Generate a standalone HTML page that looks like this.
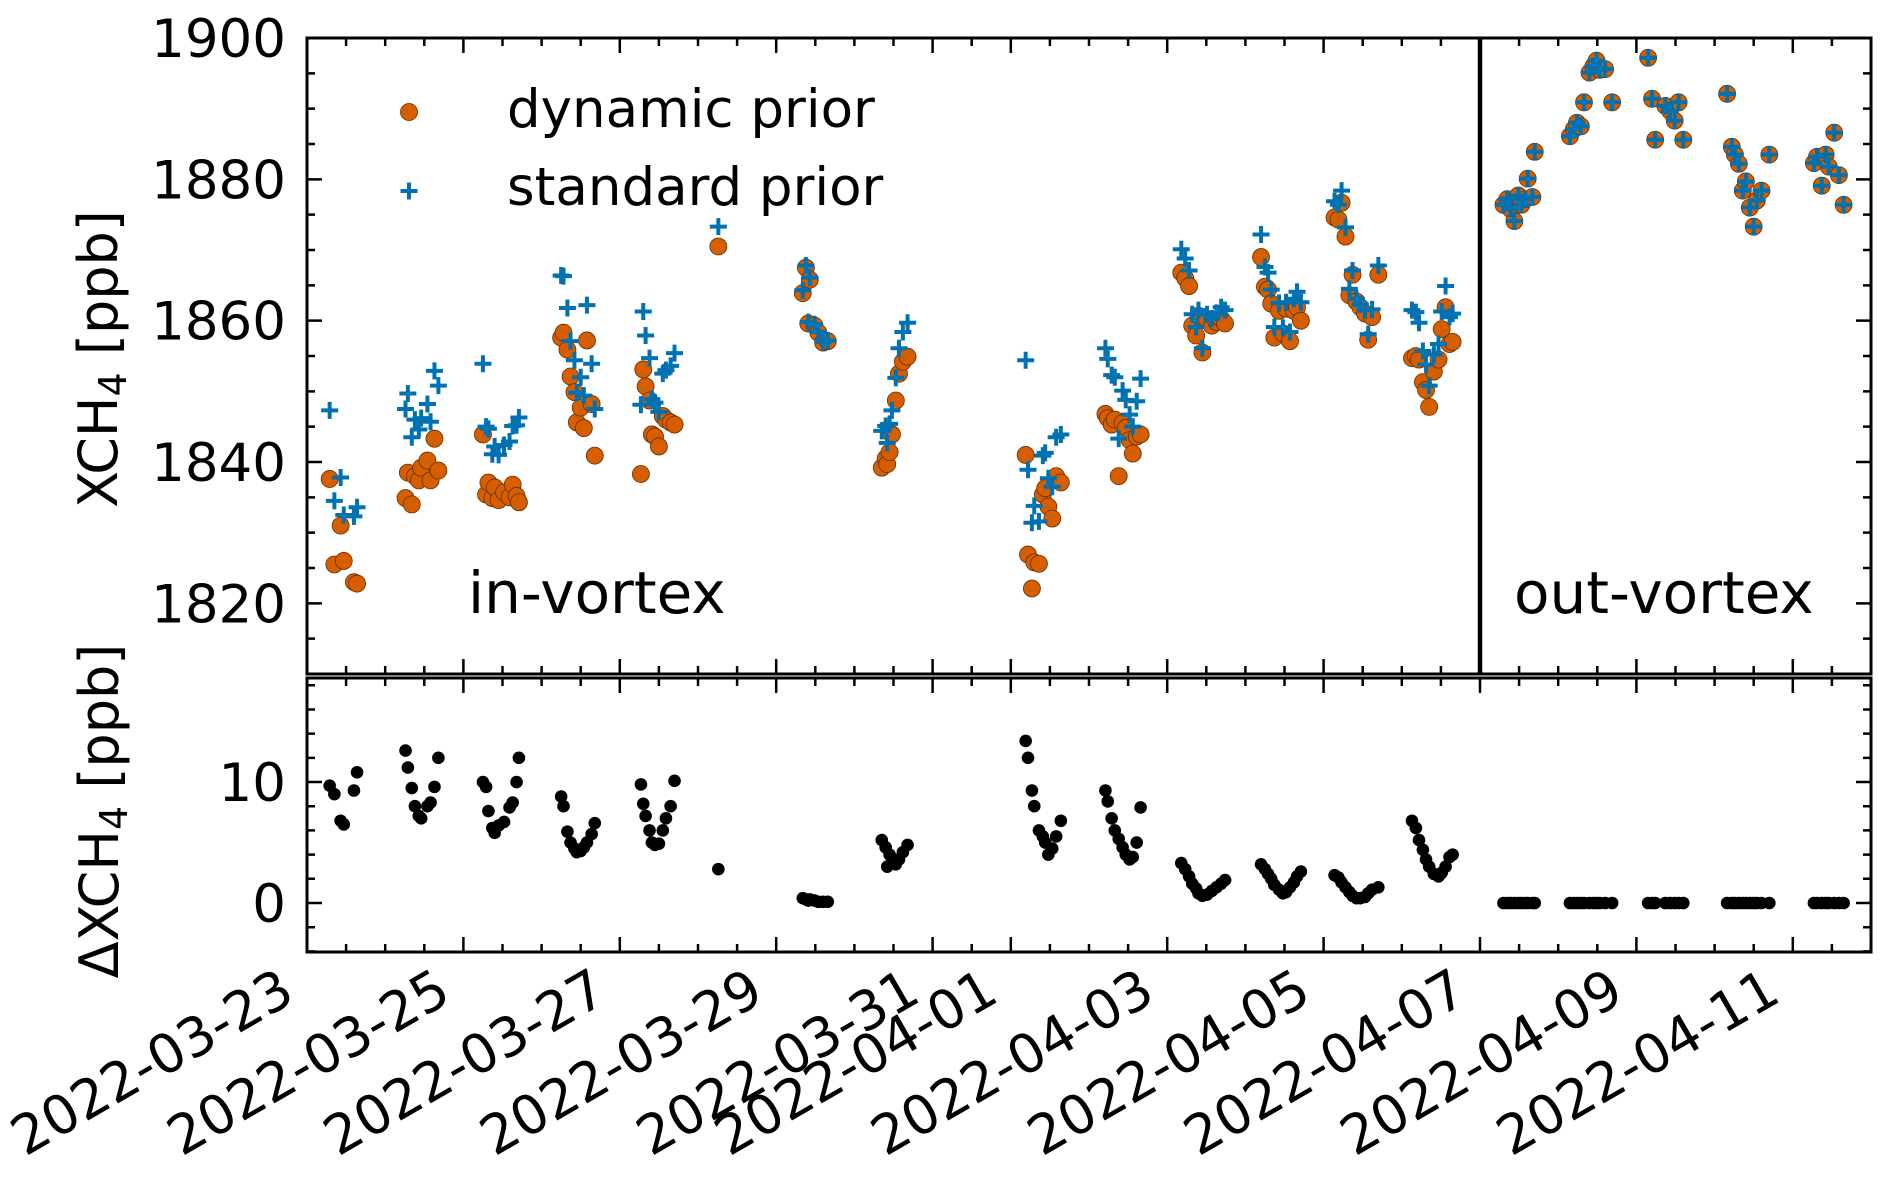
<!DOCTYPE html>
<html><head><meta charset="utf-8"><style>
html,body{margin:0;padding:0;background:#fff;}
svg{display:block;font-family:"DejaVu Sans","Liberation Sans",sans-serif;}
</style></head><body>
<svg id="chart" width="1892" height="1180" viewBox="0 0 1892 1180" xmlns="http://www.w3.org/2000/svg">
<g id="top-marks"></g>
<g id="bot-marks"></g>
<g id="axes"></g>
<text transform="translate(117,359) rotate(-90)" text-anchor="middle" font-size="54">XCH<tspan font-size="38" dy="9">4</tspan><tspan dy="-9"> [ppb]</tspan></text>
<text transform="translate(118,811) rotate(-90)" text-anchor="middle" font-size="54">ΔXCH<tspan font-size="38" dy="9">4</tspan><tspan dy="-9"> [ppb]</tspan></text>
<g>
<circle cx="409" cy="112" r="8.5" fill="#d55e00" stroke="#6b2d00" stroke-width="0.8"/>
<text x="507" y="127" font-size="53">dynamic prior</text>
<path d="M400.5 191h17M409 182.5v17" stroke="#0072b2" stroke-width="4"/>
<text x="507" y="205" font-size="53">standard prior</text>
</g>
<text x="468" y="613" font-size="58">in-vortex</text>
<text x="1514" y="613" font-size="58">out-vortex</text>
</svg>
<script>
// time in days since 2022-03-23 00:00
const times = [
0.29,0.35,0.43,0.47,0.60,0.64,
1.26,1.29,1.34,1.38,1.43,1.46,1.54,1.58,1.63,1.68,
2.25,2.29,2.32,2.37,2.40,2.45,2.52,2.59,2.63,2.68,2.71,
3.25,3.28,3.33,3.37,3.42,3.45,3.50,3.54,3.58,3.64,3.68,
4.27,4.30,4.33,4.38,4.41,4.45,4.50,4.55,4.59,4.65,4.70,
5.26,
6.34,6.38,6.43,6.41,6.49,6.54,6.60,6.66,
7.35,7.40,7.42,7.45,7.48,7.53,7.57,7.62,7.68,
9.19,9.22,9.27,9.30,9.36,9.41,9.44,9.48,9.53,9.58,9.64,
10.21,10.24,10.29,10.33,10.38,10.43,10.47,10.52,10.56,10.61,10.66,
11.18,11.23,11.28,11.32,11.37,11.40,11.45,11.51,11.57,11.63,11.69,11.74,
12.20,12.25,12.29,12.33,12.37,12.43,12.48,12.52,12.57,12.62,12.66,12.71,
13.14,13.19,13.23,13.28,13.33,13.37,13.42,13.47,13.53,13.57,13.62,13.70,
14.13,14.18,14.22,14.27,14.31,14.35,14.41,14.47,14.51,14.56,14.61,14.65,
15.30,15.35,15.39,15.44,15.49,15.53,15.58,15.61,15.67,15.70,
16.15,16.20,16.24,16.29,16.33,16.40,16.45,16.49,16.53,16.60,16.69,
17.15,17.20,17.24,17.37,17.43,17.49,17.54,17.60,
18.16,18.22,18.26,18.31,18.36,18.40,18.45,18.50,18.54,18.60,18.70,
19.27,19.31,19.37,19.42,19.46,19.53,19.59,19.65];
const dynamicPrior = [
1837.6,1825.5,1831,1826,1823,1822.8,
1834.9,1838.5,1834,1838,1837.4,1839.2,1840.2,1837.4,1843.3,1838.8,
1843.9,1835.4,1837.1,1834.9,1836.4,1834.6,1835.7,1835,1836.8,1835.2,1834.3,
1857.6,1858.3,1855.9,1852.1,1849.9,1845.6,1847.7,1844.8,1857.2,1848.2,1840.9,
1838.3,1853.1,1850.7,1848.7,1843.9,1843.6,1842.2,1846.5,1846,1845.6,1845.3,
1870.5,
1863.9,1867.5,1865.8,1859.6,1859.3,1858.3,1856.9,1857.1,
1839.2,1840.5,1839.7,1841.4,1843.9,1848.7,1852.5,1854.2,1854.9,
1841,1826.9,1822.1,1825.8,1825.6,1835.4,1836.3,1833.7,1832,1838,1837.1,
1846.8,1846.2,1845.3,1846,1838,1845.5,1844.8,1843.1,1841.2,1843.6,1843.9,
1866.8,1866,1864.9,1859.3,1857.9,1860.7,1855.5,1860.2,1859.3,1859.8,1860.3,1859.6,
1869,1864.8,1864.4,1862.4,1857.6,1861.4,1858.2,1861.7,1857.1,1861.4,1861.9,1860,
1874.6,1874.3,1876.7,1871.9,1863.6,1866.5,1862.7,1861.9,1861,1857.3,1860.5,1866.5,
1854.7,1855,1854.5,1851.3,1850.2,1847.8,1852.8,1854.5,1858.8,1861.9,1856.7,1857,
1876.4,1877.2,1875.8,1874.1,1877.7,1876.4,1877.2,1880.1,1877.5,1883.9,
1886.1,1887.1,1888,1887.5,1890.9,1895.1,1896,1896.8,1895.5,1895.6,1890.9,
1897.2,1891.4,1885.6,1890.4,1889.7,1888.3,1890.9,1885.6,
1892.1,1884.6,1883.5,1882.2,1878.4,1879.7,1876,1873.3,1877,1878.4,1883.5,
1882.3,1883.2,1879.1,1883.5,1881.8,1886.6,1880.6,1876.4];
const deltaXch4 = [
9.7,9.0,6.8,6.5,9.3,10.8,
12.6,11.2,9.5,8.0,7.2,7.0,8.0,8.3,9.6,12.0,
10.0,9.6,7.6,6.2,5.8,6.4,6.7,7.9,8.3,10.0,12.0,
8.8,8.0,5.9,5.0,4.5,4.2,4.3,4.6,5.0,5.7,6.6,
9.8,8.2,7.2,6.0,5.0,4.8,4.9,6.0,7.0,8.0,10.1,
2.8,
0.4,0.3,0.3,0.2,0.2,0.1,0.1,0.1,
5.2,4.6,3.0,4.0,3.4,3.2,3.6,4.2,4.8,
13.4,12.0,9.3,8.0,6.0,5.5,5.0,4.0,4.5,5.5,6.8,
9.3,8.4,7.0,6.0,5.3,4.6,4.0,3.6,3.8,5.0,7.9,
3.3,2.8,2.2,1.6,1.2,0.8,0.6,0.7,1.0,1.3,1.6,1.9,
3.2,2.8,2.4,2.0,1.5,1.1,0.8,0.9,1.3,1.7,2.2,2.6,
2.3,2.1,1.7,1.3,0.9,0.6,0.4,0.4,0.5,0.8,1.1,1.3,
6.8,6.2,5.2,4.4,3.6,3.0,2.4,2.2,2.5,3.0,3.8,4.0,
0,0,0,0,0,0,0,0,0,0,
0,0,0,0,0,0,0,0,0,0,0,
0,0,0,0,0,0,0,0,
0,0,0,0,0,0,0,0,0,0,0,
0,0,0,0,0,0,0,0];
const xTickDays = [0,2,4,6,8,9,11,13,15,17,19];
const xTickLabels = ["2022-03-23","2022-03-25","2022-03-27","2022-03-29","2022-03-31","2022-04-01","2022-04-03","2022-04-05","2022-04-07","2022-04-09","2022-04-11"];
const topYTicks = [1820,1840,1860,1880,1900];
const botYTicks = [0,10];
const separatorDay = 15;

(function(){
const NS="http://www.w3.org/2000/svg";
const L=307,R=1871,T1=38,B1=674,T2=678,B2=952;
const xMin=0,xMax=20,y1Min=1810,y1Max=1900,y2Min=-4.05,y2Max=18.6;
const X=d=>L+(d-xMin)/(xMax-xMin)*(R-L);
const Y1=v=>B1-(v-y1Min)/(y1Max-y1Min)*(B1-T1);
const Y2=v=>B2-(v-y2Min)/(y2Max-y2Min)*(B2-T2);
function mk(tag,attrs,parent){const e=document.createElementNS(NS,tag);for(const k in attrs)e.setAttribute(k,attrs[k]);parent.appendChild(e);return e;}
const topG=document.getElementById('top-marks'),botG=document.getElementById('bot-marks'),ax=document.getElementById('axes');

times.forEach((t,i)=>{
  const c=mk('circle',{cx:X(t),cy:Y1(dynamicPrior[i]),r:8.5,fill:'#d55e00',stroke:'#6b2d00','stroke-width':0.8},topG);
  
  
});
times.forEach((t,i)=>{
  const x=X(t),y=Y1(dynamicPrior[i]+deltaXch4[i]);
  const p=mk('path',{d:`M${x-8.5} ${y}h17M${x} ${y-8.5}v17`,stroke:'#0072b2','stroke-width':4},topG);
  
  
});
times.forEach((t,i)=>{
  const c=mk('circle',{cx:X(t),cy:Y2(deltaXch4[i]),r:6.3,fill:'#000'},botG);
  
  
});
const sep=mk('line',{x1:X(separatorDay),x2:X(separatorDay),y1:T1,y2:B1,stroke:'#000','stroke-width':4.5},ax);


[[T1,B1,'top-panel-frame'],[T2,B2,'bottom-panel-frame']].forEach(([a,b,n])=>{
  const r=mk('rect',{x:L,y:a,width:R-L,height:b-a,fill:'none',stroke:'#000','stroke-width':3},ax);
  
  
});
let tk='';
for(let k=0;k<=40;k++){
  const d=k*0.5;
  const isMajor=xTickDays.some(m=>Math.abs(m-d)<1e-6);
  const len=isMajor?15:8,x=X(d);
  [[T1,1],[B1,-1],[T2,1],[B2,-1]].forEach(([y,s])=>{tk+=`M${x} ${y}v${s*len}`;});
}
for(let v=1810;v<=1900;v+=5){const y=Y1(v),len=(v%20===0)?15:8;tk+=`M${L} ${y}h${len}M${R} ${y}h${-len}`;}
for(let v=-4;v<=18;v+=2){const y=Y2(v),len=(v%10===0)?15:8;tk+=`M${L} ${y}h${len}M${R} ${y}h${-len}`;}
const tp=mk('path',{d:tk,stroke:'#000','stroke-width':2.5,fill:'none'},ax);


topYTicks.forEach(v=>{
  const t=mk('text',{x:286,y:Y1(v)+19,'text-anchor':'end','font-size':53},ax);
  t.textContent=String(v);
  
  
});
botYTicks.forEach(v=>{
  const t=mk('text',{x:286,y:Y2(v)+19,'text-anchor':'end','font-size':53},ax);
  t.textContent=String(v);
  
  
});
xTickDays.forEach((d,i)=>{
  const px=X(d)-10,py=1000;
  const t=mk('text',{x:0,y:0,'text-anchor':'end','font-size':54,transform:`translate(${px},${py}) rotate(-30)`},ax);
  t.textContent=xTickLabels[i];
  
  
});
})();
</script>
</body></html>
